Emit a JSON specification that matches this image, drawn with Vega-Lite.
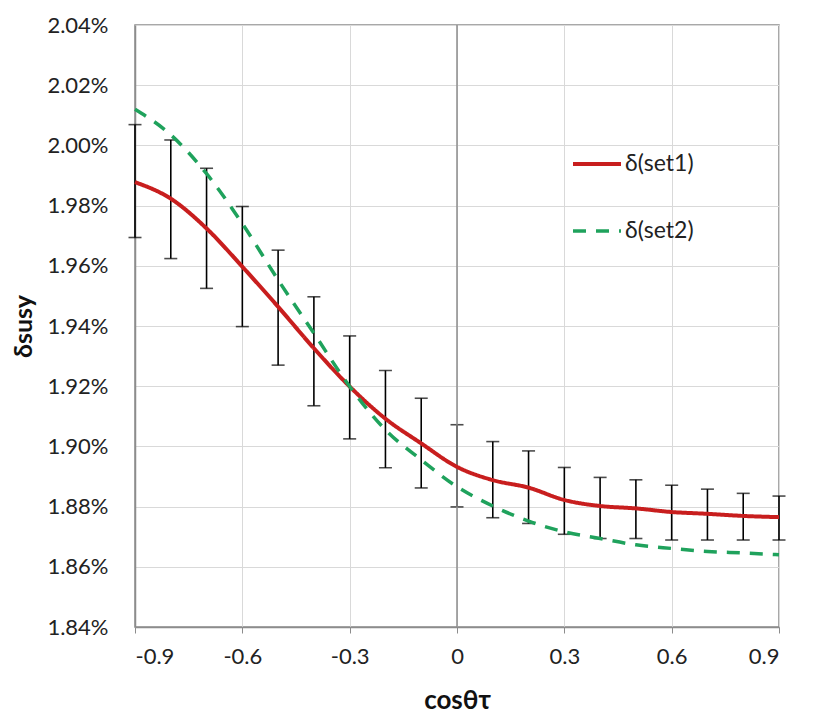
{
  "$schema": "https://vega.github.io/schema/vega-lite/v6.json",
  "width": 644,
  "height": 602,
  "autosize": {"type": "none"},
  "padding": {"left": 135, "top": 25, "right": 51, "bottom": 93},
  "background": "white",
  "view": {"stroke": "#8c8c8c", "strokeWidth": 1.5},
  "datasets": {
    "curves": [
      {"x": -0.9, "series": "δ(set1)", "value": 0.019878},
      {"x": -0.8, "series": "δ(set1)", "value": 0.019823},
      {"x": -0.7, "series": "δ(set1)", "value": 0.019724},
      {"x": -0.6, "series": "δ(set1)", "value": 0.019597},
      {"x": -0.5, "series": "δ(set1)", "value": 0.019464},
      {"x": -0.4, "series": "δ(set1)", "value": 0.019326},
      {"x": -0.3, "series": "δ(set1)", "value": 0.019199},
      {"x": -0.2, "series": "δ(set1)", "value": 0.019092},
      {"x": -0.1, "series": "δ(set1)", "value": 0.019010},
      {"x": 0.0, "series": "δ(set1)", "value": 0.018932},
      {"x": 0.1, "series": "δ(set1)", "value": 0.018888},
      {"x": 0.2, "series": "δ(set1)", "value": 0.018863},
      {"x": 0.3, "series": "δ(set1)", "value": 0.018822},
      {"x": 0.4, "series": "δ(set1)", "value": 0.018802},
      {"x": 0.5, "series": "δ(set1)", "value": 0.018794},
      {"x": 0.6, "series": "δ(set1)", "value": 0.018782},
      {"x": 0.7, "series": "δ(set1)", "value": 0.018776},
      {"x": 0.8, "series": "δ(set1)", "value": 0.018769},
      {"x": 0.9, "series": "δ(set1)", "value": 0.018765},
      {"x": -0.9, "series": "δ(set2)", "value": 0.020120},
      {"x": -0.8, "series": "δ(set2)", "value": 0.020035},
      {"x": -0.7, "series": "δ(set2)", "value": 0.019906},
      {"x": -0.6, "series": "δ(set2)", "value": 0.019740},
      {"x": -0.5, "series": "δ(set2)", "value": 0.019553},
      {"x": -0.4, "series": "δ(set2)", "value": 0.019376},
      {"x": -0.3, "series": "δ(set2)", "value": 0.019199},
      {"x": -0.2, "series": "δ(set2)", "value": 0.019055},
      {"x": -0.1, "series": "δ(set2)", "value": 0.018955},
      {"x": 0.0, "series": "δ(set2)", "value": 0.018866},
      {"x": 0.1, "series": "δ(set2)", "value": 0.018802},
      {"x": 0.2, "series": "δ(set2)", "value": 0.018752},
      {"x": 0.3, "series": "δ(set2)", "value": 0.018716},
      {"x": 0.4, "series": "δ(set2)", "value": 0.018694},
      {"x": 0.5, "series": "δ(set2)", "value": 0.018673},
      {"x": 0.6, "series": "δ(set2)", "value": 0.018661},
      {"x": 0.7, "series": "δ(set2)", "value": 0.018651},
      {"x": 0.8, "series": "δ(set2)", "value": 0.018646},
      {"x": 0.9, "series": "δ(set2)", "value": 0.018640}
    ],
    "bars": [
      {"x": -0.9, "lo": 0.019694, "hi": 0.020069},
      {"x": -0.8, "lo": 0.019624, "hi": 0.020018},
      {"x": -0.7, "lo": 0.019525, "hi": 0.019924},
      {"x": -0.6, "lo": 0.019398, "hi": 0.019797},
      {"x": -0.5, "lo": 0.019270, "hi": 0.019652},
      {"x": -0.4, "lo": 0.019135, "hi": 0.019497},
      {"x": -0.3, "lo": 0.019025, "hi": 0.019367},
      {"x": -0.2, "lo": 0.018929, "hi": 0.019252},
      {"x": -0.1, "lo": 0.018862, "hi": 0.019160},
      {"x": 0.0, "lo": 0.018799, "hi": 0.019072},
      {"x": 0.1, "lo": 0.018763, "hi": 0.019016},
      {"x": 0.2, "lo": 0.018744, "hi": 0.018985},
      {"x": 0.3, "lo": 0.018708, "hi": 0.018930},
      {"x": 0.4, "lo": 0.018694, "hi": 0.018897},
      {"x": 0.5, "lo": 0.018694, "hi": 0.018889},
      {"x": 0.6, "lo": 0.018689, "hi": 0.018871},
      {"x": 0.7, "lo": 0.018689, "hi": 0.018858},
      {"x": 0.8, "lo": 0.018689, "hi": 0.018844},
      {"x": 0.9, "lo": 0.018689, "hi": 0.018835}
    ]
  },
  "encoding": {
    "x": {
      "field": "x",
      "type": "quantitative",
      "title": "cosθτ",
      "scale": {"domain": [-0.9, 0.9], "nice": false, "zero": false},
      "axis": {
        "values": [-0.9, -0.6, -0.3, 0, 0.3, 0.6, 0.9],
        "labelExpr": "'' + datum.value",
        "grid": true,
        "gridColor": "#d9d9d9",
        "domainColor": "#8c8c8c",
        "domainWidth": 1.5,
        "tickColor": "#8c8c8c",
        "tickSize": 6,
        "labelPadding": 13,
        "labelFontSize": 22,
        "labelColor": "#222222",
        "titleFontSize": 26,
        "titleFontWeight": "bold",
        "titleColor": "#111111",
        "titlePadding": 20
      }
    }
  },
  "layer": [
    {
      "data": {"name": "bars"},
      "mark": {
        "type": "errorbar",
        "ticks": {"size": 13, "thickness": 1.6, "color": "black"},
        "rule": {"strokeWidth": 1.6, "color": "black"}
      },
      "encoding": {
        "y": {
          "field": "lo",
          "type": "quantitative",
          "title": "δsusy",
          "scale": {"domain": [0.0184, 0.0204], "nice": false, "zero": false},
          "axis": {
            "values": [0.0184, 0.0186, 0.0188, 0.019, 0.0192, 0.0194, 0.0196, 0.0198, 0.02, 0.0202, 0.0204],
            "format": ".2%",
            "grid": true,
            "gridColor": "#d9d9d9",
            "domainColor": "#8c8c8c",
            "domainWidth": 1.5,
            "ticks": false,
            "labelPadding": 27,
            "labelFontSize": 22,
            "labelColor": "#222222",
            "titleFontSize": 25,
            "titleFontWeight": "bold",
            "titleColor": "#111111",
            "titlePadding": 10
          }
        },
        "y2": {"field": "hi"}
      }
    },
    {
      "data": {"values": [{"x0": 0}]},
      "mark": {"type": "rule", "color": "#8c8c8c", "strokeWidth": 1.5},
      "encoding": {"x": {"field": "x0", "type": "quantitative"}}
    },
    {
      "data": {"name": "curves"},
      "mark": {"type": "line", "interpolate": "monotone"},
      "encoding": {
        "y": {"field": "value", "type": "quantitative", "title": "δsusy"},
        "color": {
          "field": "series",
          "type": "nominal",
          "scale": {"domain": ["δ(set1)", "δ(set2)"], "range": ["#c81e1e", "#1fa25c"]},
          "legend": {
            "title": null,
            "orient": "none",
            "legendX": 436,
            "legendY": 113,
            "symbolType": "stroke",
            "symbolSize": 2304,
            "symbolStrokeWidth": 3.5,
            "labelFontSize": 23,
            "labelColor": "#222222",
            "labelOffset": 2,
            "rowPadding": 29
          }
        },
        "strokeDash": {
          "field": "series",
          "type": "nominal",
          "scale": {"domain": ["δ(set1)", "δ(set2)"], "range": [[1, 0], [13, 10]]},
          "legend": null
        },
        "strokeWidth": {
          "field": "series",
          "type": "nominal",
          "scale": {"domain": ["δ(set1)", "δ(set2)"], "range": [4, 3.5]},
          "legend": null
        }
      }
    }
  ],
  "config": {
    "font": "Lato",
    "axis": {"labelFont": "Lato", "titleFont": "Lato"},
    "legend": {"labelFont": "Lato"}
  }
}
